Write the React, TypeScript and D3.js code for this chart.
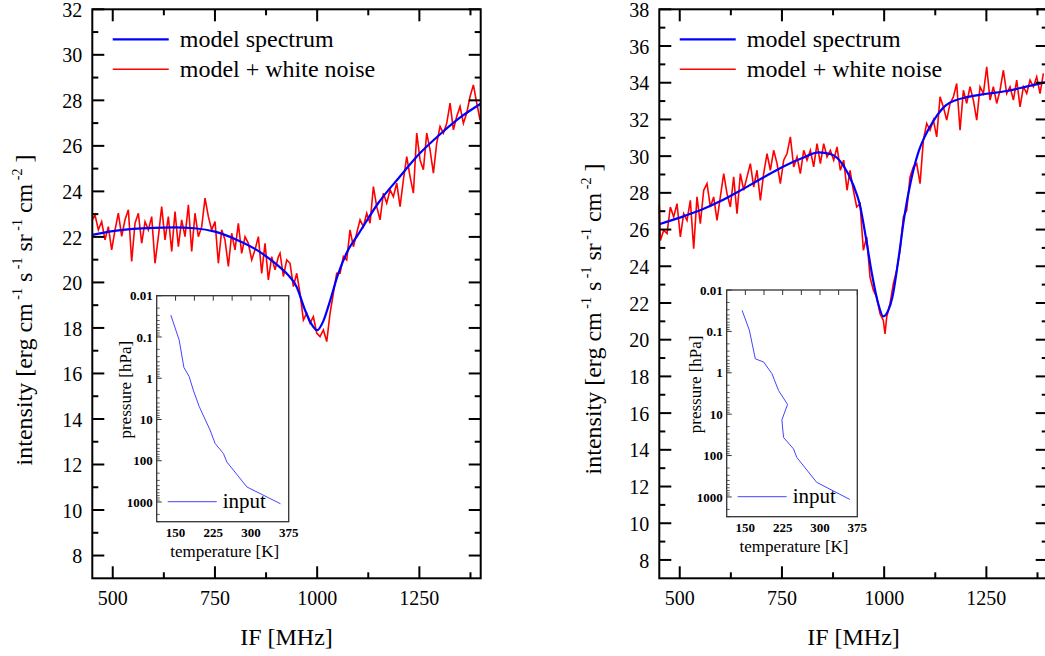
import React from 'react';
import * as d3 from 'd3';

const FONT = "'Liberation Serif', 'Times New Roman', Times, 'DejaVu Serif', serif";

// model spectrum, left panel [IF MHz, intensity]
const leftModel: [number, number][] = [
  [450, 22.09], [500, 22.25], [550, 22.35], [600, 22.4], [650, 22.42], [700, 22.38],
  [750, 22.23], [800, 21.9], [850, 21.45], [900, 20.8], [925, 20.4], [950, 19.8],
  [970, 18.8], [985, 18.2], [1000, 17.9], [1015, 18.3], [1030, 19.1], [1050, 20.3],
  [1075, 21.4], [1100, 22.1], [1150, 23.5], [1200, 24.6], [1250, 25.65], [1300, 26.5],
  [1350, 27.25], [1400, 27.85],
];

// model + white noise, left panel
const leftNoise: [number, number][] = [
  [450, 22.75], [456.6, 22.97], [464.8, 22.31], [472.9, 22.67], [481.1, 21.87], [489.2, 22.45],
  [497.4, 21.43], [505.6, 22.31], [513.7, 23.04], [521.9, 22.02], [530, 22.75], [538.2, 23.19],
  [546.3, 20.92], [554.5, 22.6], [562.6, 23.04], [570.8, 21.72], [579, 22.67], [587.1, 22.31],
  [595.3, 22.89], [603.4, 20.84], [611.6, 22.01], [619.7, 23.33], [627.9, 21.87], [636, 22.89],
  [644.2, 21.36], [652.3, 23.11], [660.5, 21.57], [668.6, 22.75], [676.8, 22.01], [685, 23.41],
  [693.1, 21.36], [701.2, 23.04], [709.4, 22.01], [717.6, 22.45], [725.7, 23.7], [733.9, 22.89],
  [742, 22.31], [750.2, 22.67], [758.3, 20.84], [766.5, 22.31], [774.6, 21.87], [782.8, 20.7],
  [790.9, 22.16], [799.1, 21.43], [807.2, 22.6], [815.4, 21.28], [823.6, 22.01], [831.7, 21.72],
  [839.9, 20.99], [848, 21.43], [856.2, 22.01], [864.3, 20.4], [872.5, 21.72], [880.6, 20.11],
  [888.8, 21.13], [896.9, 20.55], [905.1, 21.13], [909.2, 21.28], [917.4, 20.26], [925.5, 20.99],
  [933.7, 20.84], [941.8, 19.82], [950, 20.4], [958.1, 19.52], [966.3, 18.35], [974.4, 18.64],
  [982.6, 18.21], [990.7, 18.5], [998.9, 17.77], [1007, 17.62], [1015.2, 17.91], [1023.4, 17.4],
  [1031.5, 18.64], [1039.6, 19.52], [1047.8, 20.4], [1056, 20.4], [1064.1, 21.14], [1072.3, 20.99],
  [1080.4, 22.31], [1088.6, 21.57], [1096.7, 22.16], [1104.9, 22.75], [1113.1, 22.45], [1121.2, 23.04],
  [1129.4, 22.6], [1137.5, 24.21], [1145.7, 23.33], [1153.8, 22.75], [1162, 23.92], [1170.1, 23.48],
  [1178.3, 24.07], [1186.4, 23.77], [1194.6, 24.36], [1202.8, 23.33], [1210.9, 24.51], [1219.1, 25.53],
  [1227.2, 24.65], [1235.4, 23.92], [1243.5, 26.56], [1251.7, 25.38], [1259.8, 24.95], [1268, 26.56],
  [1276.1, 25.82], [1284.3, 24.8], [1292.4, 26.12], [1300.6, 26.85], [1308.8, 26.56], [1316.9, 26.99],
  [1325.1, 27.88], [1333.2, 26.7], [1341.4, 27.29], [1349.5, 27.73], [1357.7, 26.99], [1365.8, 27.44],
  [1374, 28.17], [1382.1, 28.68], [1390.3, 27.88], [1398.4, 27.14],
];

// input temperature profile, left inset [K, hPa]
const leftProfile: [number, number][] = [
  [140.6, 0.0295], [157.2, 0.119], [166.6, 0.547], [177.2, 0.92], [185.2, 1.94], [197.2, 4.9],
  [218.6, 18], [228.6, 38], [245.2, 67], [252, 107], [292, 433], [358.6, 1100],
];

// model spectrum, right panel
const rightModel: [number, number][] = [
  [450, 26.29], [500, 26.65], [550, 27.05], [600, 27.55], [650, 28.15], [700, 28.78],
  [750, 29.4], [800, 29.9], [840, 30.2], [870, 30.1], [900, 29.5], [925, 28.4],
  [940, 27.4], [955, 25.6], [970, 23.6], [985, 22.0], [998, 21.27], [1010, 21.6],
  [1020, 22.3], [1035, 24.4], [1050, 26.8], [1065, 28.6], [1085, 30.3], [1100, 31.1],
  [1120, 31.9], [1150, 32.75], [1175, 33.05], [1200, 33.2], [1250, 33.4], [1300, 33.55],
  [1350, 33.8], [1400, 34.05],
];

// model + white noise, right panel
const rightNoise: [number, number][] = [
  [450, 27.32], [452.6, 25.41], [460.7, 25.96], [468.9, 25.78], [477, 27.23], [485.2, 26.69],
  [493.3, 27.41], [501.5, 25.6], [509.6, 26.87], [517.8, 26.5], [525.9, 27.59], [534.1, 24.96],
  [542.2, 27.78], [550.4, 26.32], [558.6, 28.14], [566.7, 28.5], [574.9, 27.23], [583, 27.78],
  [591.2, 26.5], [599.3, 27.78], [607.5, 29.05], [615.6, 27.96], [623.8, 27.23], [631.9, 28.87],
  [640.1, 26.87], [648.3, 29.05], [656.4, 28.14], [664.6, 28.87], [672.7, 29.59], [680.9, 28.32],
  [689, 29.23], [697.2, 27.59], [705.3, 29.05], [713.5, 30.14], [721.6, 29.23], [729.8, 30.32],
  [738, 29.59], [746.1, 28.5], [754.3, 29.78], [762.4, 30.14], [770.6, 31.05], [778.7, 29.41],
  [786.9, 29.96], [795, 29.05], [803.2, 30.32], [811.3, 29.78], [819.5, 30.32], [827.6, 29.41],
  [835.8, 30.68], [844, 29.59], [852.1, 30.68], [860.3, 29.96], [868.4, 30.32], [876.6, 29.78],
  [884.7, 30.5], [892.9, 29.23], [901, 29.78], [909.2, 28.14], [916.5, 29.23], [924.7, 28.14],
  [932.8, 27.23], [941, 27.41], [949.1, 24.87], [957.3, 25.6], [965.4, 23.41], [973.6, 22.69],
  [981.7, 22.32], [989.9, 21.42], [998, 21.05], [1002.1, 20.32], [1006.2, 21.23], [1014.3, 21.96],
  [1022.5, 23.05], [1030.7, 23.78], [1038.8, 24.87], [1047, 26.69], [1055.1, 27.05], [1063.3, 28.87],
  [1071.4, 29.41], [1079.6, 29.59], [1087.8, 28.5], [1095.9, 30.87], [1104.1, 31.78], [1112.2, 31.41],
  [1120.4, 31.96], [1128.5, 31.05], [1136.7, 33.23], [1144.8, 32.68], [1153, 31.96], [1161.1, 32.87],
  [1169.3, 33.23], [1177.4, 33.96], [1185.6, 31.41], [1193.8, 33.59], [1201.9, 32.87], [1210.1, 33.78],
  [1218.2, 33.05], [1226.4, 31.96], [1234.5, 33.78], [1242.7, 33.41], [1250.8, 34.87], [1259, 33.05],
  [1267.1, 33.78], [1275.3, 32.87], [1283.4, 33.59], [1291.6, 34.68], [1299.7, 33.41], [1307.9, 33.78],
  [1316.1, 33.05], [1324.2, 34.14], [1332.4, 32.68], [1340.5, 33.78], [1348.7, 33.41], [1356.8, 34.14],
  [1365, 33.78], [1373.1, 34.32], [1381.3, 33.41], [1389.4, 34.51],
];

// input temperature profile, right inset
const rightProfile: [number, number][] = [
  [143.4, 0.031], [158, 0.093], [170, 0.46], [186.8, 0.55], [203.4, 1.05], [216.8, 2.7],
  [234.8, 5.8], [223.4, 13.8], [226.8, 36.7], [246.8, 69], [253.4, 111], [293.4, 443], [360, 1150],
];

const ifTicks = [500, 750, 1000, 1250];
const ifMinorTicks = [625, 875, 1125, 1375];
const tempTicks = [150, 225, 300, 375];
const tempMinorTicks = [187.5, 262.5, 337.5];
const pressTicks = [0.01, 0.1, 1, 10, 100, 1000];
const pressLabels = ['0.01', '0.1', '1', '10', '100', '1000'];
const legendLabels = ['model spectrum', 'model + white noise'];

type Box = { x0: number; x1: number; y0: number; y1: number };
type PanelCfg = {
  left: number; right: number; yMax: number;
  model: [number, number][]; noise: [number, number][]; profile: [number, number][];
  ylabel: [number, number]; inset: Box;
};

const TOP = 9.3;
const BOTTOM = 578.3;

function Panel({ cfg }: { cfg: PanelCfg }) {
  const x = d3.scaleLinear().domain([450, 1400]).range([cfg.left, cfg.right]);
  const y = d3.scaleLinear().domain([7, cfg.yMax]).range([BOTTOM, TOP]);
  const smooth = d3.line<[number, number]>().x(d => x(d[0])).y(d => y(d[1])).curve(d3.curveMonotoneX);
  const jagged = d3.line<[number, number]>().x(d => x(d[0])).y(d => y(d[1]));
  const majorY = d3.range(8, cfg.yMax + 0.1, 2);
  const minorY = d3.range(9, cfg.yMax, 2);

  const b = cfg.inset;
  const ix = d3.scaleLinear().domain([112.5, 375]).range([b.x0, b.x1]);
  const iy = d3.scaleLog().domain([0.01, 3000]).range([b.y0, b.y1]);
  const minorP: number[] = [];
  pressTicks.forEach(p => d3.range(2, 10).forEach(m => { if (p * m <= 3000) minorP.push(p * m); }));
  const prof = d3.line<[number, number]>().x(d => ix(d[0])).y(d => iy(d[1]));
  const cx = (b.x0 + b.x1) / 2;
  const cy = (b.y0 + b.y1) / 2;
  const sup = (s: string) => (
    <>
      <tspan fontSize={14} dy={-10}>{'\u00a0' + s}</tspan>
      <tspan dy={10}>{'\u00a0'}</tspan>
    </>
  );

  return (
    <g>
      <path d={jagged(cfg.noise) || ''} fill="none" stroke="#ff0000" strokeWidth={1.6} />
      <path d={smooth(cfg.model) || ''} fill="none" stroke="#0000ff" strokeWidth={2.2} />

      {/* frame and ticks */}
      <rect x={cfg.left} y={TOP} width={cfg.right - cfg.left} height={BOTTOM - TOP} fill="none" stroke="#000" strokeWidth={2} />
      {majorY.map(v => (
        <g key={'my' + v}>
          <line x1={cfg.left} x2={cfg.left + 12} y1={y(v)} y2={y(v)} stroke="#000" strokeWidth={2} />
          <line x1={cfg.right} x2={cfg.right - 12} y1={y(v)} y2={y(v)} stroke="#000" strokeWidth={2} />
          <text x={cfg.left - 10} y={y(v) + 1} dy="0.33em" textAnchor="end" fontSize={20}>{v}</text>
        </g>
      ))}
      {minorY.map(v => (
        <g key={'ny' + v}>
          <line x1={cfg.left} x2={cfg.left + 6} y1={y(v)} y2={y(v)} stroke="#000" strokeWidth={2} />
          <line x1={cfg.right} x2={cfg.right - 6} y1={y(v)} y2={y(v)} stroke="#000" strokeWidth={2} />
        </g>
      ))}
      {ifTicks.map(v => (
        <g key={'mx' + v}>
          <line x1={x(v)} x2={x(v)} y1={BOTTOM} y2={BOTTOM - 12} stroke="#000" strokeWidth={2} />
          <line x1={x(v)} x2={x(v)} y1={TOP} y2={TOP + 12} stroke="#000" strokeWidth={2} />
          <text x={x(v)} y={605} textAnchor="middle" fontSize={20}>{v}</text>
        </g>
      ))}
      {ifMinorTicks.map(v => (
        <g key={'nx' + v}>
          <line x1={x(v)} x2={x(v)} y1={BOTTOM} y2={BOTTOM - 6} stroke="#000" strokeWidth={2} />
          <line x1={x(v)} x2={x(v)} y1={TOP} y2={TOP + 6} stroke="#000" strokeWidth={2} />
        </g>
      ))}
      <text x={(cfg.left + cfg.right) / 2} y={645} textAnchor="middle" fontSize={24}>IF [MHz]</text>
      <text transform={`translate(${cfg.ylabel[0]},${cfg.ylabel[1]}) rotate(-90)`} textAnchor="middle" fontSize={24}>
        intensity [erg cm{sup('-1')}s{sup('-1')}sr{sup('-1')}cm{sup('-2')}]
      </text>

      {/* legend */}
      {legendLabels.map((t, i) => (
        <g key={t}>
          <line x1={x(500)} x2={x(500) + 56} y1={39.3 + i * 30} y2={39.3 + i * 30}
            stroke={i === 0 ? '#0000ff' : '#ff0000'} strokeWidth={i === 0 ? 2.2 : 1.6} />
          <text x={x(500) + 67} y={47.3 + i * 30} fontSize={24}>{t}</text>
        </g>
      ))}

      {/* inset */}
      <rect x={b.x0} y={b.y0} width={b.x1 - b.x0} height={b.y1 - b.y0} fill="#fff" stroke="#333" strokeWidth={1.3} />
      {pressTicks.map((p, i) => (
        <g key={'ip' + p}>
          <line x1={b.x0} x2={b.x0 + 5} y1={iy(p)} y2={iy(p)} stroke="#333" strokeWidth={1} />
          <text x={b.x0 - 4} y={iy(p)} dy="0.35em" textAnchor="end" fontSize={13} fontWeight="bold">{pressLabels[i]}</text>
        </g>
      ))}
      {minorP.map(p => (
        <line key={'mp' + p} x1={b.x0} x2={b.x0 + 3} y1={iy(p)} y2={iy(p)} stroke="#333" strokeWidth={0.8} />
      ))}
      {tempTicks.map(t => (
        <g key={'it' + t}>
          <line x1={ix(t)} x2={ix(t)} y1={b.y0} y2={b.y0 + 5} stroke="#333" strokeWidth={1} />
          <text x={ix(t)} y={b.y1 + 15} textAnchor="middle" fontSize={13} fontWeight="bold">{t}</text>
        </g>
      ))}
      {tempMinorTicks.map(t => (
        <line key={'mt' + t} x1={ix(t)} x2={ix(t)} y1={b.y0} y2={b.y0 + 5} stroke="#333" strokeWidth={1} />
      ))}
      <path d={prof(cfg.profile) || ''} fill="none" stroke="#4444ff" strokeWidth={1} />
      <line x1={b.x0 + 11} x2={b.x0 + 60} y1={b.y1 - 20} y2={b.y1 - 20} stroke="#4444ff" strokeWidth={1} />
      <text x={b.x0 + 66} y={b.y1 - 13.5} fontSize={21}>input</text>
      <text x={cx + 2} y={b.y1 + 35} textAnchor="middle" fontSize={17}>temperature [K]</text>
      <text transform={`translate(${b.x0 - 26},${cy - 19}) rotate(-90)`} textAnchor="middle" fontSize={17}>pressure [hPa]</text>
    </g>
  );
}

const leftCfg: PanelCfg = {
  left: 92.3, right: 480.7, yMax: 32,
  model: leftModel, noise: leftNoise, profile: leftProfile,
  ylabel: [32, 310], inset: { x0: 156.7, x1: 288.7, y0: 295.7, y1: 521.7 },
};

const rightCfg: PanelCfg = {
  left: 659.3, right: 1047.7, yMax: 38,
  model: rightModel, noise: rightNoise, profile: rightProfile,
  ylabel: [601, 319], inset: { x0: 726.7, x1: 857.3, y0: 290, y1: 516.7 },
};

export default function App() {
  return (
    <svg width={1045} height={656} fontFamily={FONT}
      style={{ position: 'absolute', left: 0, top: 0, background: '#fff', fontFamily: FONT }}>
      <Panel cfg={leftCfg} />
      <Panel cfg={rightCfg} />
    </svg>
  );
}
